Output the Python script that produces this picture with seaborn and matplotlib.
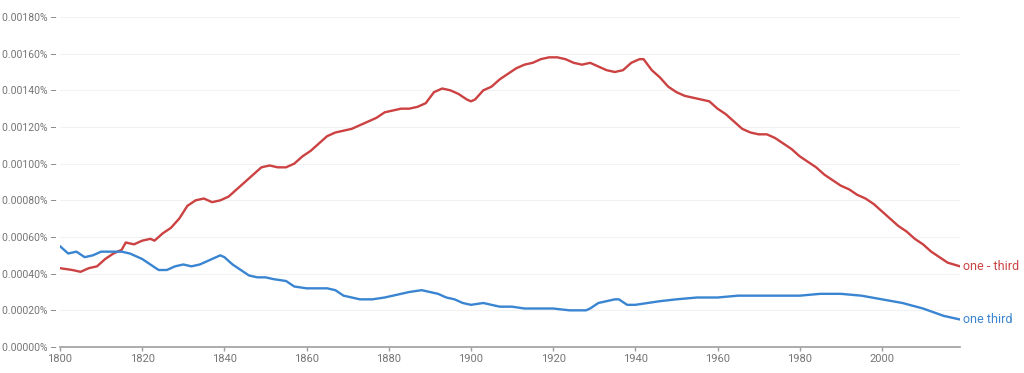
import matplotlib
matplotlib.use("Agg")
import matplotlib.pyplot as plt
import seaborn as sns
import pandas as pd

# data (share of words, as fractions of 1%)
red_years = [1800, 1803, 1805, 1807, 1809, 1811, 1813, 1815, 1816, 1818, 1820, 1822, 1823,
             1825, 1827, 1829, 1831, 1833, 1835, 1837, 1839, 1841, 1843, 1845, 1847, 1849,
             1851, 1853, 1855, 1857, 1859, 1861, 1863, 1865, 1867, 1869, 1871, 1873, 1875,
             1877, 1879, 1881, 1883, 1885, 1887, 1889, 1891, 1893, 1895, 1897, 1899, 1900,
             1901, 1903, 1905, 1907, 1909, 1911, 1913, 1915, 1917, 1919, 1921, 1923, 1925,
             1927, 1929, 1931, 1933, 1935, 1937, 1939, 1941, 1942, 1944, 1946, 1948, 1950,
             1952, 1954, 1956, 1958, 1960, 1962, 1964, 1966, 1968, 1970, 1972, 1974, 1976,
             1978, 1980, 1982, 1984, 1986, 1988, 1990, 1992, 1994, 1996, 1998, 2000, 2002,
             2004, 2006, 2008, 2010, 2012, 2014, 2016, 2019]
red_vals = [0.00043, 0.00042, 0.00041, 0.00043, 0.00044, 0.00048, 0.00051, 0.00053, 0.00057,
            0.00056, 0.00058, 0.00059, 0.00058, 0.00062, 0.00065, 0.00070, 0.00077, 0.00080,
            0.00081, 0.00079, 0.00080, 0.00082, 0.00086, 0.00090, 0.00094, 0.00098, 0.00099,
            0.00098, 0.00098, 0.00100, 0.00104, 0.00107, 0.00111, 0.00115, 0.00117, 0.00118,
            0.00119, 0.00121, 0.00123, 0.00125, 0.00128, 0.00129, 0.00130, 0.00130, 0.00131,
            0.00133, 0.00139, 0.00141, 0.00140, 0.00138, 0.00135, 0.00134, 0.00135, 0.00140,
            0.00142, 0.00146, 0.00149, 0.00152, 0.00154, 0.00155, 0.00157, 0.00158, 0.00158,
            0.00157, 0.00155, 0.00154, 0.00155, 0.00153, 0.00151, 0.00150, 0.00151, 0.00155,
            0.00157, 0.00157, 0.00151, 0.00147, 0.00142, 0.00139, 0.00137, 0.00136, 0.00135,
            0.00134, 0.00130, 0.00127, 0.00123, 0.00119, 0.00117, 0.00116, 0.00116, 0.00114,
            0.00111, 0.00108, 0.00104, 0.00101, 0.00098, 0.00094, 0.00091, 0.00088, 0.00086,
            0.00083, 0.00081, 0.00078, 0.00074, 0.00070, 0.00066, 0.00063, 0.00059, 0.00056,
            0.00052, 0.00049, 0.00046, 0.00044]

blue_years = [1800, 1802, 1804, 1806, 1808, 1810, 1812, 1815, 1817, 1820, 1822, 1824, 1826,
              1828, 1830, 1832, 1834, 1836, 1838, 1839, 1840, 1842, 1844, 1846, 1848, 1850,
              1852, 1855, 1857, 1860, 1862, 1865, 1867, 1869, 1871, 1873, 1876, 1879, 1881,
              1883, 1885, 1888, 1890, 1892, 1894, 1896, 1898, 1900, 1903, 1905, 1907, 1910,
              1913, 1916, 1920, 1924, 1928, 1929, 1931, 1933, 1935, 1936, 1938, 1940, 1943,
              1946, 1950, 1955, 1960, 1965, 1970, 1975, 1980, 1985, 1990, 1995, 2000, 2005,
              2010, 2015, 2019]
blue_vals = [0.00055, 0.00051, 0.00052, 0.00049, 0.00050, 0.00052, 0.00052, 0.00052, 0.00051,
             0.00048, 0.00045, 0.00042, 0.00042, 0.00044, 0.00045, 0.00044, 0.00045, 0.00047,
             0.00049, 0.00050, 0.00049, 0.00045, 0.00042, 0.00039, 0.00038, 0.00038, 0.00037,
             0.00036, 0.00033, 0.00032, 0.00032, 0.00032, 0.00031, 0.00028, 0.00027, 0.00026,
             0.00026, 0.00027, 0.00028, 0.00029, 0.00030, 0.00031, 0.00030, 0.00029, 0.00027,
             0.00026, 0.00024, 0.00023, 0.00024, 0.00023, 0.00022, 0.00022, 0.00021, 0.00021,
             0.00021, 0.00020, 0.00020, 0.00021, 0.00024, 0.00025, 0.00026, 0.00026, 0.00023,
             0.00023, 0.00024, 0.00025, 0.00026, 0.00027, 0.00027, 0.00028, 0.00028, 0.00028,
             0.00028, 0.00029, 0.00029, 0.00028, 0.00026, 0.00024, 0.00021, 0.00017, 0.00015]

names = ["one - third", "one third"]
colors = {"one - third": "#cc4141", "one third": "#3a85d1"}

df = pd.concat([
    pd.DataFrame({"year": red_years, "value": red_vals, "ngram": names[0]}),
    pd.DataFrame({"year": blue_years, "value": blue_vals, "ngram": names[1]}),
])

sns.set_theme(style="white")
plt.rcParams["font.family"] = ["Roboto", "DejaVu Sans"]

fig = plt.figure(figsize=(10.24, 3.73), dpi=100)
ax = fig.add_axes([60 / 1024, 1 - 347 / 373, 900 / 1024, 330 / 373])

sns.lineplot(data=df, x="year", y="value", hue="ngram", palette=colors,
             linewidth=1.7, legend=False, ax=ax,
             solid_joinstyle="round", solid_capstyle="round")

ax.set_xlim(1800, 2019)
ax.set_ylim(0, 0.0018)
yt = [i * 0.0002 for i in range(10)]
ax.set_yticks(yt)
ax.set_yticklabels(["%.5f%% \u2013" % v for v in yt])
ax.set_xticks(range(1800, 2020, 20))
ax.tick_params(axis="y", length=0, labelsize=7.5, labelcolor="#757575", pad=2)
ax.tick_params(axis="x", length=3, width=1, color="#9e9e9e", direction="out",
               bottom=True, labelsize=8, labelcolor="#757575", pad=2)
ax.yaxis.grid(True, color="#f2f2f2", linewidth=0.8)
ax.set_axisbelow(True)
for s in ["top", "right", "left"]:
    ax.spines[s].set_visible(False)
ax.spines["bottom"].set_color("#9e9e9e")
ax.spines["bottom"].set_linewidth(1.2)
ax.set_xlabel("")
ax.set_ylabel("")

# series labels at line ends
ax.text(2019.8, red_vals[-1], names[0], color=colors[names[0]], fontsize=9, va="center")
ax.text(2019.8, blue_vals[-1], names[1], color=colors[names[1]], fontsize=9, va="center")

fig.savefig("out.png", dpi=100)
